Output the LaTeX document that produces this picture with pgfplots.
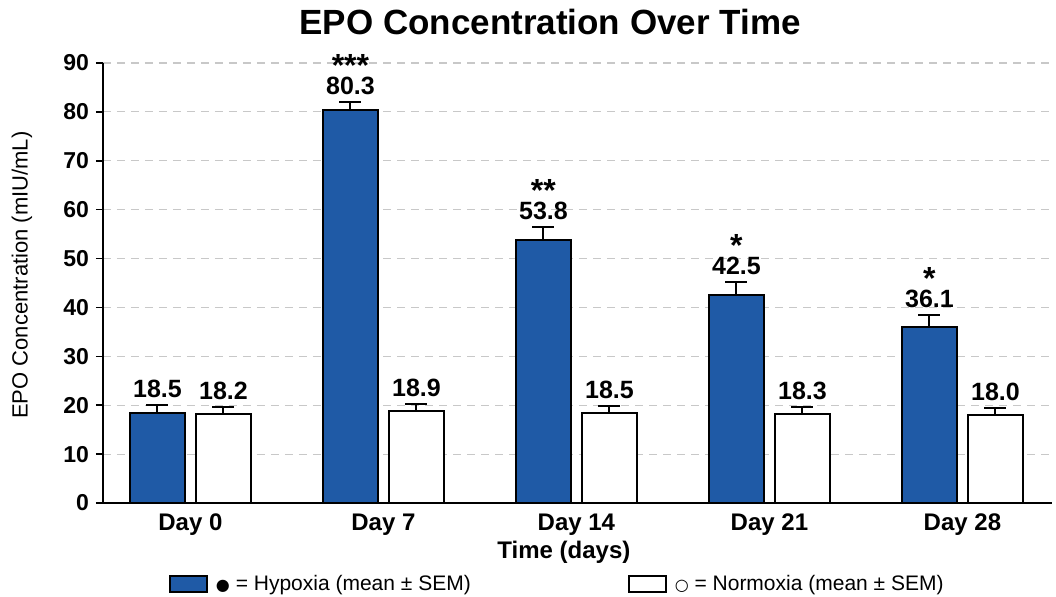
\documentclass[border=0pt]{standalone}
\usepackage{fontspec}
\setmainfont{Liberation Sans}
\newfontfamily\symfont{DejaVu Sans}
\usepackage{pgfplots}
\usepackage{pgfplotstable}
\pgfplotsset{compat=1.18}
\definecolor{hypblue}{HTML}{1F5AA6}
\definecolor{gridgray}{HTML}{C8C8C8}

\pgfplotstableread{
x y err top lab
0 18.5 1.6 20.1 18.5
1 80.3 1.7 82.0 80.3
2 53.8 2.7 56.5 53.8
3 42.5 2.7 45.2 42.5
4 36.1 2.4 38.5 36.1
}\hyp
\pgfplotstableread{
x y err top lab
0 18.2 1.5 19.7 18.2
1 18.9 1.3 20.2 18.9
2 18.5 1.4 19.9 18.5
3 18.3 1.4 19.7 18.3
4 18.0 1.4 19.4 18.0
}\norm

\newcommand\stars[1]{\raisebox{-0.4em}[0.34em][0pt]{#1}}
\newcommand\lab[2]{\shortstack{{\fontsize{16}{16}\selectfont\stars{#1}}\\[3.5pt]#2}}

\begin{document}
\begin{tikzpicture}
\begin{axis}[
  scale only axis,
  width=474.5pt, height=220pt,
  ybar, bar width=27.5pt,
  xmin=-0.453, xmax=4.464,
  ymin=0, ymax=90,
  ytick={0,10,...,90},
  xtick={0,1,2,3,4},
  xticklabels={Day 0,Day 7,Day 14,Day 21,Day 28},
  axis x line*=bottom,
  axis y line*=left,
  axis line style={-, line width=1pt, black},
  x tick style={draw=none},
  y tick style={line width=0.8pt, black},
  tick align=outside,
  major tick length=3.5pt,
  ymajorgrids,
  major grid style={gridgray, line width=0.6pt, dash pattern=on 4pt off 3pt},
  /pgf/number format/assume math mode=true,
  yticklabel style={font=\bfseries\fontsize{11.5}{13}\selectfont},
  xticklabel style={font=\bfseries\fontsize{12}{14}\selectfont, yshift=1.5pt},
  xlabel={Time (days)},
  xlabel style={font=\bfseries\fontsize{12}{14}\selectfont, at={(axis description cs:0.4857,0)}, anchor=center, yshift=-24.5pt},
  ylabel={EPO Concentration (mIU/mL)},
  ylabel style={font=\fontsize{11}{13}\selectfont, at={(axis description cs:-0.0854,0.518)}, anchor=center},
  legend columns=2,
  legend style={draw=none, fill=none, at={(axis description cs:0.063,-0.184)}, anchor=west,
    font=\fontsize{10.5}{12}\selectfont,
    /tikz/every even column/.append style={column sep=0pt}},
  legend cell align=left,
  legend image code/.code={\draw[#1, line width=0.9pt] (0pt,-4pt) rectangle (18.5pt,4pt);},
  clip=false,
]
\addplot[bar shift=-16.5pt, fill=hypblue, draw=black, line width=1pt,
  error bars/.cd, y dir=plus, y explicit,
  error bar style={line width=1pt, black},
  error mark options={rotate=90, line width=1pt, black, mark size=5.5pt}]
  table[x=x, y=y, y error=err] {\hyp};
\addlegendentry{\makebox[206pt][l]{\hspace{2pt}{\symfont\footnotesize ●} = Hypoxia (mean ± SEM)}}
\addplot[bar shift=16.5pt, fill=white, draw=black, line width=1pt,
  error bars/.cd, y dir=plus, y explicit,
  error bar style={line width=1pt, black},
  error mark options={rotate=90, line width=1pt, black, mark size=5.5pt}]
  table[x=x, y=y, y error=err] {\norm};
\addlegendentry{\hspace{2pt}{\symfont\footnotesize ○} = Normoxia (mean ± SEM)}
% value labels with significance stars (hypoxia)
\addplot[bar shift=-16.5pt, draw=none, fill=none, forget plot,
  point meta=explicit symbolic, nodes near coords,
  nodes near coords style={font=\bfseries\fontsize{12.5}{14}\selectfont, anchor=south, inner sep=1pt, yshift=2.5pt}]
  coordinates {(0,20.1) [18.5] (1,82.0) [\lab{***}{80.3}] (2,56.5) [\lab{**}{53.8}] (3,45.2) [\lab{*}{42.5}] (4,38.5) [\lab{*}{36.1}]};
% value labels (normoxia)
\addplot[bar shift=16.5pt, draw=none, fill=none, forget plot,
  point meta=explicit symbolic, nodes near coords,
  nodes near coords style={font=\bfseries\fontsize{12.5}{14}\selectfont, anchor=south, inner sep=1pt, yshift=2.5pt}]
  table[x=x, y=top, meta=lab] {\norm};
\end{axis}
\node[font=\bfseries\fontsize{17.5}{20}\selectfont] at (223.5pt,240.5pt) {EPO Concentration Over Time};
\pgfresetboundingbox
\useasboundingbox (-51.5pt,-47pt) rectangle (476.5pt,251.5pt);
\end{tikzpicture}
\end{document}
